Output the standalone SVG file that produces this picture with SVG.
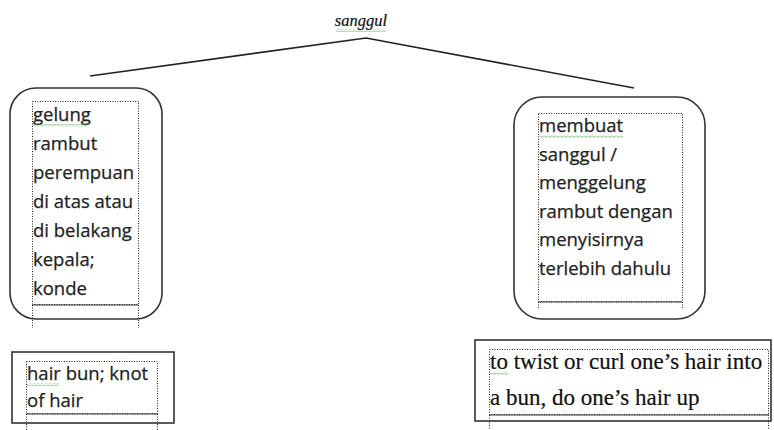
<svg xmlns="http://www.w3.org/2000/svg" width="774" height="430" viewBox="0 0 774 430">
<style>
.bg{fill:#ffffff}
.outer{fill:none;stroke:#333;stroke-width:1.6}
.dot{fill:none;stroke:#222;stroke-width:1;stroke-dasharray:1 1.5}
.dotb{fill:none;stroke:#333;stroke-width:2.2;stroke-dasharray:1 1}
.conn{fill:none;stroke:#222;stroke-width:1.7}
.sans{font-family:"Open Sans","Noto Sans","DejaVu Sans",sans-serif;font-size:18.5px;fill:#222;stroke:#222;stroke-width:0.25}
.serif{font-family:"Liberation Serif","Times New Roman",serif;font-size:23px;fill:#111;stroke:#111;stroke-width:0.2}
.title{font-family:"Liberation Serif","Times New Roman",serif;font-size:16.5px;font-style:italic;fill:#111;stroke:#111;stroke-width:0.2}
</style>
<defs>
<pattern id="wavy" patternUnits="userSpaceOnUse" width="4" height="3">
<path d="M0 0.5 L2 2.5 L4 0.5" fill="none" stroke="#4aa84a" stroke-width="0.8"/>
</pattern>
</defs>
<rect class="bg" x="0" y="0" width="774" height="430"/>

<g id="title">
<text class="title" x="361" y="26" text-anchor="middle">sanggul</text>
<rect x="336" y="29" width="50" height="3" fill="url(#wavy)"/>
</g>

<g id="connectors">
<polyline class="conn" points="90,76 366,38 634,88"/>
</g>

<g id="node-left">
<rect class="outer" x="10" y="88" width="152" height="231" rx="26" ry="26"/>
<rect class="dot" x="32.5" y="101.5" width="106" height="203"/>
<line class="dotb" x1="32.5" y1="305" x2="138.5" y2="305"/>
<line class="dot" x1="32.5" y1="305" x2="32.5" y2="328"/>
<line class="dot" x1="138.5" y1="305" x2="138.5" y2="328"/>
<text class="sans">
<tspan x="33" y="121">gelung</tspan>
<tspan x="33" y="150">rambut</tspan>
<tspan x="33" y="179">perempuan</tspan>
<tspan x="33" y="208">di atas atau</tspan>
<tspan x="33" y="237">di belakang</tspan>
<tspan x="33" y="266">kepala;</tspan>
<tspan x="33" y="295">konde</tspan>
</text>
<rect x="33" y="124" width="56" height="3" fill="url(#wavy)"/>
</g>

<g id="node-right">
<rect class="outer" x="514" y="97" width="191" height="222" rx="28" ry="28"/>
<rect class="dot" x="538.5" y="113.5" width="144" height="188"/>
<line class="dotb" x1="538.5" y1="302" x2="682.5" y2="302"/>
<line class="dot" x1="538.5" y1="302" x2="538.5" y2="308"/>
<line class="dot" x1="682.5" y1="302" x2="682.5" y2="308"/>
<text class="sans">
<tspan x="539" y="132">membuat</tspan>
<tspan x="539" y="160.6">sanggul /</tspan>
<tspan x="539" y="189.2">menggelung</tspan>
<tspan x="539" y="217.8">rambut dengan</tspan>
<tspan x="539" y="246.4">menyisirnya</tspan>
<tspan x="539" y="275">terlebih dahulu</tspan>
</text>
<rect x="539" y="135" width="84" height="3" fill="url(#wavy)"/>
</g>

<g id="node-left-en">
<rect class="outer" x="12" y="352" width="162" height="71"/>
<rect class="dot" x="26.5" y="361.5" width="131" height="52"/>
<line class="dotb" x1="26.5" y1="414" x2="157.5" y2="414"/>
<line class="dot" x1="26.5" y1="414" x2="26.5" y2="430"/>
<line class="dot" x1="157.5" y1="414" x2="157.5" y2="430"/>
<text class="sans">
<tspan x="27" y="380">hair bun; knot</tspan>
<tspan x="27" y="407">of hair</tspan>
</text>
<rect x="27" y="383" width="32" height="3" fill="url(#wavy)"/>
</g>

<g id="node-right-en">
<rect class="outer" x="475" y="340" width="296" height="81"/>
<rect class="dot" x="489.5" y="349.5" width="279" height="65"/>
<line class="dotb" x1="489.5" y1="415" x2="768.5" y2="415"/>
<line class="dot" x1="489.5" y1="415" x2="489.5" y2="430"/>
<line class="dot" x1="768.5" y1="415" x2="768.5" y2="430"/>
<text class="serif">
<tspan x="490" y="369">to twist or curl one’s hair into</tspan>
<tspan x="490" y="405">a bun, do one’s hair up</tspan>
</text>
<rect x="490" y="372" width="18" height="3" fill="url(#wavy)"/>
</g>
</svg>
